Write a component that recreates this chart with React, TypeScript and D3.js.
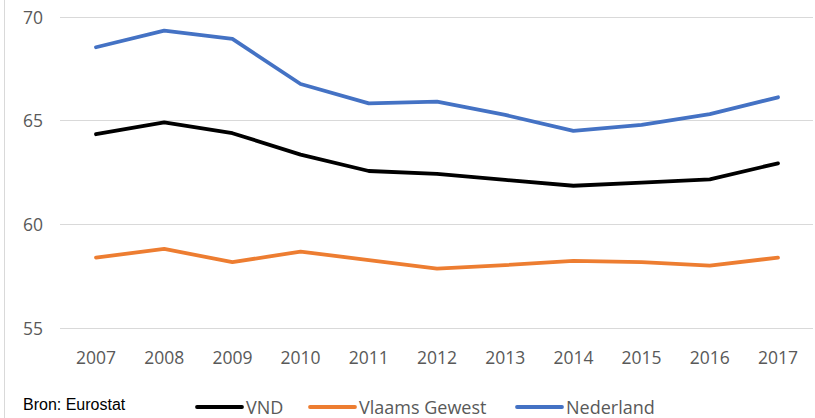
import React from "react";
import * as d3 from "d3";

const years = ["2007","2008","2009","2010","2011","2012","2013","2014","2015","2016","2017"];
const vnd = [64.33, 64.9, 64.38, 63.35, 62.56, 62.42, 62.13, 61.85, 62.0, 62.16, 62.93];
const vlaams = [58.39, 58.81, 58.17, 58.68, 58.27, 57.86, 58.03, 58.23, 58.17, 58.0, 58.39];
const nederland = [68.52, 69.32, 68.92, 66.75, 65.82, 65.9, 65.26, 64.49, 64.78, 65.3, 66.11];
const yTicks = [55, 60, 65, 70];
const seriesNames = ["VND", "Vlaams Gewest", "Nederland"];
const seriesColors = ["#000000", "#ED7D31", "#4472C4"];
const source = "Bron: Eurostat";

const W = 815, H = 418;

export default function App() {
  const x = d3.scalePoint<string>().domain(years).range([96, 778]);
  const y = d3.scaleLinear().domain([55, 70]).range([328, 16.5]);
  const line = d3.line<number>().x((_, i) => x(years[i]) as number).y(d => y(d));
  const data = [vnd, vlaams, nederland];
  const legendX = [197, 310, 517];
  const font = "'Open Sans', sans-serif";
  return (
    <svg width={W} height={H} style={{ position: "absolute", left: 0, top: 0, background: "#fff" }}>
      <line x1={4.5} x2={4.5} y1={0} y2={H} stroke="#d9d9d9" strokeWidth={1} />
      {yTicks.map(t => (
        <g key={t}>
          <line x1={60} x2={813} y1={Math.round(y(t)) + 0.5} y2={Math.round(y(t)) + 0.5} stroke="#d9d9d9" strokeWidth={1} />
          <text x={43} y={y(t)} textAnchor="end" dominantBaseline="central" fontFamily={font} fontSize={17.5} fill="#595959">{t}</text>
        </g>
      ))}
      {years.map(yr => (
        <text key={yr} x={x(yr)} y={357} textAnchor="middle" dominantBaseline="central" fontFamily={font} fontSize={17.5} fill="#595959">{yr}</text>
      ))}
      {data.map((d, i) => (
        <path key={i} d={line(d) || ""} fill="none" stroke={seriesColors[i]} strokeWidth={3.8} strokeLinejoin="round" strokeLinecap="round" />
      ))}
      {seriesNames.map((n, i) => (
        <g key={n}>
          <line x1={legendX[i]} x2={legendX[i] + 45} y1={407} y2={407} stroke={seriesColors[i]} strokeWidth={3.8} strokeLinecap="round" />
          <text x={legendX[i] + 49} y={407} dominantBaseline="central" fontFamily={font} fontSize={18} fill="#595959">{n}</text>
        </g>
      ))}
      <text x={23} y={410} fontFamily="'Liberation Sans', Arial, sans-serif" fontSize={16} fill="#000">{source}</text>
    </svg>
  );
}
